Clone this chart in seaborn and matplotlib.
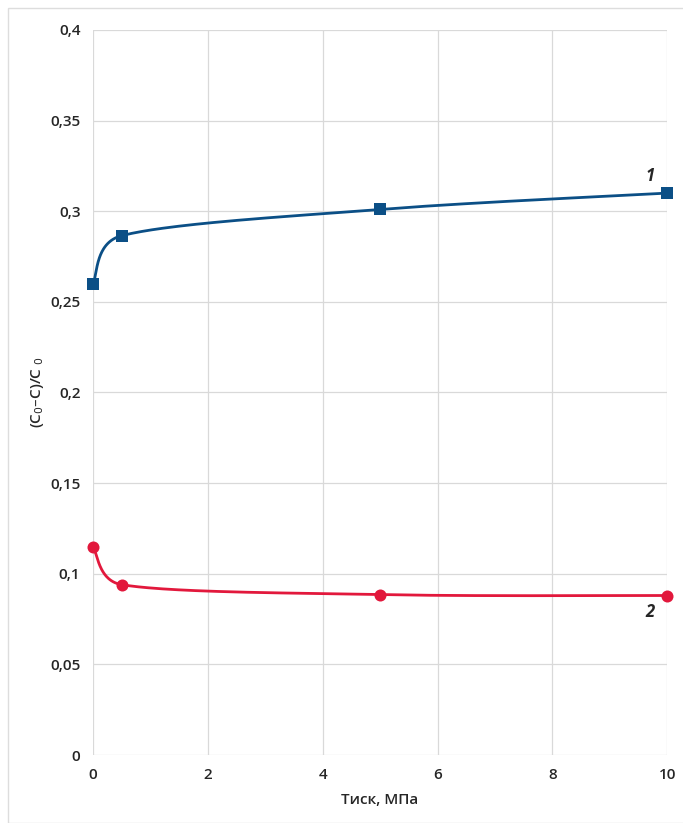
import numpy as np
import pandas as pd
import matplotlib
matplotlib.use("Agg")
import matplotlib.pyplot as plt
import seaborn as sns

pressure = [0, 0.5, 5, 10]
series1 = [0.260, 0.2865, 0.301, 0.310]
series2 = [0.115, 0.094, 0.0885, 0.088]
xticks = [0, 2, 4, 6, 8, 10]
yticks = [0, 0.05, 0.1, 0.15, 0.2, 0.25, 0.3, 0.35, 0.4]
ytick_labels = ["0", "0,05", "0,1", "0,15", "0,2", "0,25", "0,3", "0,35", "0,4"]

blue = "#0b4f86"
red = "#e2183c"

sns.set_style("white")
plt.rcParams['font.family'] = ['Open Sans', 'DejaVu Sans']


def smooth(xs, ys, sx, sy, n=60):
    # Excel-like smoothed line: cubic Bezier segments, handles clamped
    p = np.column_stack([np.asarray(xs, float) / sx, np.asarray(ys, float) / sy])
    out = []
    for i in range(len(p) - 1):
        a, b = p[i], p[i + 1]
        prev = p[i - 1] if i > 0 else a
        nxt = p[i + 2] if i + 2 < len(p) else b
        chord = np.linalg.norm(b - a)
        t1 = (b - prev) / 6
        t2 = (nxt - a) / 6
        for t in (t1, t2):
            L = np.linalg.norm(t)
            if L > chord * 0.5:
                t *= chord * 0.5 / L
        c1, c2 = a + t1, b - t2
        s = np.linspace(0, 1, n)[:, None]
        seg = (1 - s) ** 3 * a + 3 * (1 - s) ** 2 * s * c1 + 3 * (1 - s) * s ** 2 * c2 + s ** 3 * b
        out.append(seg if i == 0 else seg[1:])
    out = np.vstack(out)
    return out[:, 0] * sx, out[:, 1] * sy


fig = plt.figure(figsize=(6.83, 8.23), dpi=100)
ax = fig.add_axes([0.136, 0.0826, 0.841, 0.881])

# scale factors matching the axes pixel box
sx, sy = 10 / 574, 0.4 / 725
for ys, col, mk, ms in [(series1, blue, "s", 75), (series2, red, "o", 75)]:
    cx, cy = smooth(pressure, ys, sx, sy)
    curve = pd.DataFrame({"x": cx, "y": cy})
    sns.lineplot(data=curve, x="x", y="y", ax=ax, color=col, lw=2, sort=False, estimator=None)
    pts = pd.DataFrame({"x": pressure, "y": ys})
    sns.scatterplot(data=pts, x="x", y="y", ax=ax, color=col, marker=mk, s=ms,
                    edgecolor=col, linewidth=0, zorder=5)

ax.set_xlim(0, 10)
ax.set_ylim(0, 0.4)
ax.set_xticks(xticks)
ax.set_yticks(yticks)
ax.set_yticklabels(ytick_labels)
ax.grid(True, color="#d9d9d9", lw=0.9)
for s in ax.spines.values():
    s.set_visible(False)
ax.tick_params(axis="both", length=3, color="#bbbbbb", labelsize=11, pad=6)
for lab in ax.get_xticklabels() + ax.get_yticklabels():
    lab.set_fontweight("semibold")
for c in ax.collections + ax.lines:
    c.set_clip_on(False)

ax.set_xlabel("Тиск, МПа", fontsize=11, fontweight="semibold", labelpad=8)
ax.set_ylabel("(C$_0$–C)/C $_0$", fontsize=11, fontweight="semibold", labelpad=3)

ax.text(9.62, 0.3165, "1", fontsize=12, style="italic", fontweight="bold")
ax.text(9.62, 0.076, "2", fontsize=12, style="italic", fontweight="bold")

# light outer frame
fig.patches.append(plt.Rectangle((0.012, 0.0), 0.99, 0.99, transform=fig.transFigure,
                                 fill=False, edgecolor="#dddddd", lw=1))

fig.savefig("out.png", dpi=100)
